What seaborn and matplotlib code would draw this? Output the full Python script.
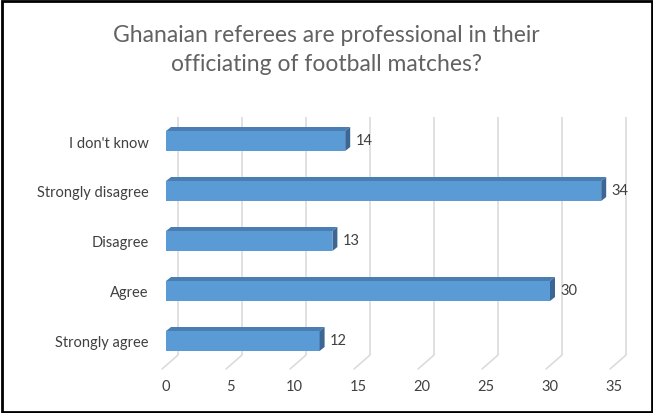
import matplotlib
matplotlib.use("Agg")
import matplotlib.pyplot as plt
from matplotlib.patches import Polygon, Rectangle
from matplotlib.transforms import ScaledTranslation
import seaborn as sns
import pandas as pd

categories = ["I don't know", "Strongly disagree", "Disagree", "Agree", "Strongly agree"]
counts = [14, 34, 13, 30, 12]
x_ticks = [0, 5, 10, 15, 20, 25, 30, 35]
title = "Ghanaian referees are professional in their\nofficiating of football matches?"

df = pd.DataFrame({"response": categories, "count": counts})

sns.set_theme(style="white")
plt.rcParams["font.family"] = ["Lato", "DejaVu Sans"]

W, H = 653, 414
fig = plt.figure(figsize=(W / 100, H / 100), dpi=100)
ax = fig.add_axes([159.6 / W, 1 - 372 / H, 473.6 / W, 255 / H])

front = "#5b9bd5"
top_c = "#4a7eb3"
side_c = "#3c6693"
grid_c = "#d9d9d9"
text_c = "#404040"
fs = 10.5

sns.barplot(data=df, x="count", y="response", order=categories, orient="h",
            color=front, saturation=1, width=0.4, ax=ax, zorder=3,
            edgecolor="none")

ax.set_xlim(-0.5, 36.5)
ax.set_ylim(4.6, -0.5)

# back wall gridlines and floor diagonals
back_dx, floor_back, floor_front, wall_top = 0.94, 4.28, 4.56, -0.48
front_dx = -0.31
for t in x_ticks:
    ax.plot([t + back_dx, t + back_dx], [wall_top, floor_back], color=grid_c,
            lw=1.1, zorder=1, solid_capstyle="butt")
    ax.plot([t + back_dx, t + front_dx], [floor_back, floor_front], color=grid_c,
            lw=1.1, zorder=1)

# depth faces for each bar
dx, dy = 0.39, 0.08
for p in ax.patches:
    x0 = p.get_x()
    x1 = x0 + p.get_width()
    yt = p.get_y()
    yb = yt + p.get_height()
    top = Polygon([(x0, yt), (x1, yt), (x1 + dx, yt - dy), (x0 + dx, yt - dy)],
                  closed=True, facecolor=top_c, edgecolor="none", zorder=4)
    side = Polygon([(x1, yt), (x1 + dx, yt - dy), (x1 + dx, yb - dy), (x1, yb)],
                   closed=True, facecolor=side_c, edgecolor="none", zorder=4)
    ax.add_patch(top)
    ax.add_patch(side)

# value labels
for i, v in enumerate(counts):
    ax.text(v + dx + 0.4, i - 0.02, str(v), ha="left", va="center",
            fontsize=fs, color=text_c, zorder=5)

ax.set_xticks(x_ticks)
ax.set_xticklabels([str(t) for t in x_ticks], fontsize=fs, color=text_c)
shift = ScaledTranslation(-4 / 100, 0, fig.dpi_scale_trans)
for lab in ax.get_xticklabels():
    lab.set_transform(lab.get_transform() + shift)
ax.tick_params(axis="x", length=0, pad=6)
ax.tick_params(axis="y", length=0, pad=8, labelsize=fs, labelcolor=text_c)
ax.set_xlabel("")
ax.set_ylabel("")
for s in ax.spines.values():
    s.set_visible(False)
ax.set_facecolor("none")

fig.text(0.5, 1 - 50 / H, title, ha="center", va="center", fontsize=16.5,
         color="#626262", linespacing=1.42)

fig.patches.append(Rectangle((1.5 / W, 1.5 / H), 1 - 3 / W, 1 - 3 / H,
                             transform=fig.transFigure, fill=False,
                             edgecolor="black", lw=2, zorder=10))

fig.savefig("out.png", dpi=100)
